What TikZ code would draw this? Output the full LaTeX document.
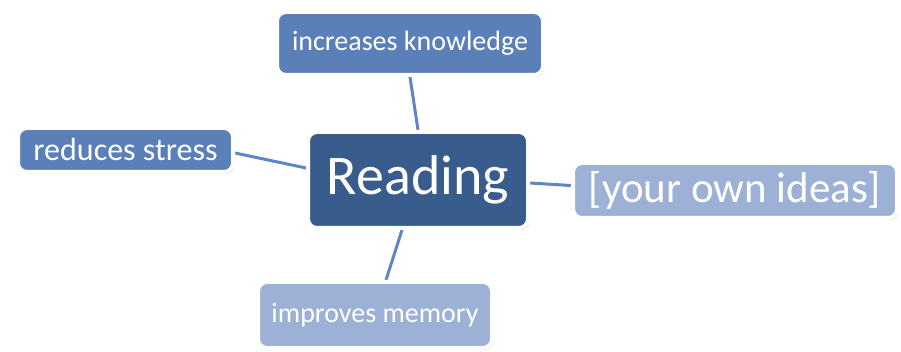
\documentclass[tikz,border=0pt]{standalone}
\usepackage{fontspec}
\setmainfont{Carlito}
\usetikzlibrary{shadows}
\pgfdeclarelayer{paper}
\pgfdeclarelayer{background}
\pgfsetlayers{paper,background,main}
\definecolor{midblue}{HTML}{5B7FB9}
\definecolor{darkblue}{HTML}{385D8C}
\definecolor{lightblue}{HTML}{9CB1D5}
\definecolor{linkblue}{HTML}{5F86C4}
\tikzset{
  box/.style={rounded corners=9pt, draw=white, line width=4pt, inner sep=0pt,
    text=white, align=center,
    drop shadow={opacity=0.35, shadow xshift=1.5pt, shadow yshift=-2pt}},
  link/.style={draw=linkblue, line width=3pt},
}
\begin{document}
\begin{tikzpicture}[x=1pt,y=-1pt]
\begin{pgfonlayer}{paper}
\fill[white] (0,0) rectangle (901,352);
\end{pgfonlayer}
\useasboundingbox (0,0) rectangle (901,352);
\node[box, fill=midblue, minimum width=266pt, minimum height=63pt, font=\fontsize{28}{31}\selectfont] (know) at (410,43.5) {increases knowledge};
\node[box, fill=midblue, minimum width=215pt, minimum height=44pt, font=\fontsize{32}{35}\selectfont] (stress) at (125.5,150) {reduces stress};
\node[box, fill=darkblue, minimum width=220pt, minimum height=96pt, font=\fontsize{56}{60}\selectfont] (read) at (418,180) {Reading};
\node[box, fill=lightblue, minimum width=324pt, minimum height=55pt, font=\fontsize{43}{47}\selectfont] (ideas) at (735,190.5) {[your own ideas]};
\node[box, fill=lightblue, minimum width=234pt, minimum height=66pt, font=\fontsize{28}{31}\selectfont] (memory) at (375,315) {improves memory};
\begin{pgfonlayer}{background}
\draw[link] (know.south) -- (read.north);
\draw[link] ([yshift=-3pt]stress.east) -- ([yshift=12pt]read.west);
\draw[link] ([yshift=-3pt]read.east) -- ([yshift=5pt]ideas.west);
\draw[link] ([xshift=-16pt]read.south) -- ([xshift=11pt]memory.north);
\end{pgfonlayer}
\end{tikzpicture}
\end{document}
